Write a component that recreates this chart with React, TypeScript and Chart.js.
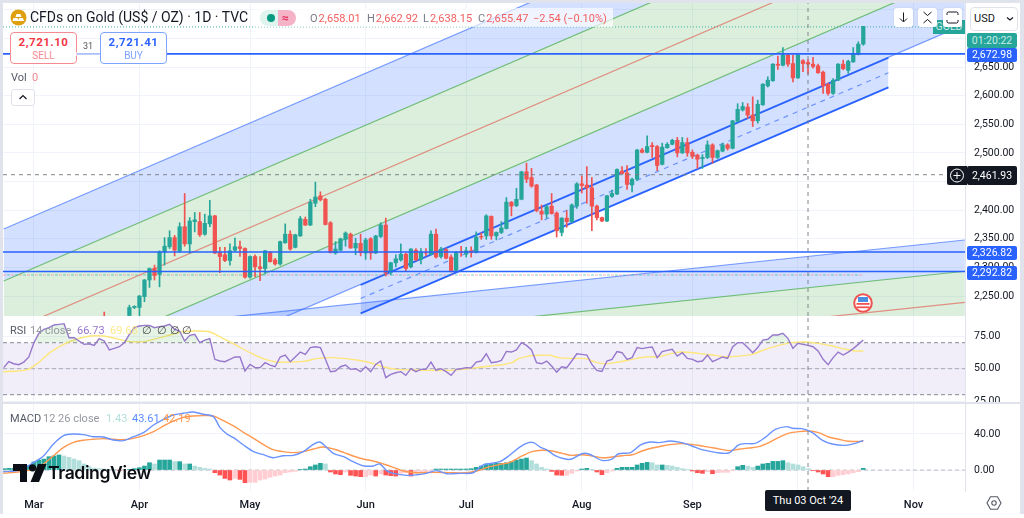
import React, { useEffect, useRef } from "react";
import Chart from "chart.js/auto";

// ---------- candles (last entry is the most recent bar, bar number 0) ----------
const opens = [2214,null,null,null,null,2216,2230,2230,2249,2278,2298,2288,2327,2336,2352,2329,2371,2341,2380,2380,2358,2376,2390,2326,2322,2312,2330,2336,2333,2283,2319,2301,2298,2326,2313,2306,2343,2358,2335,2355,2384,2374,2412,2425,2419,2378,2325,2330,2349,2358,2334,2342,2325,2350,2325,2354,2374,
2291,2308,2313,2323,2301,2330,2314,2326,2323,2358,2319,2331,2318,2295,2327,2323,2329,2326,2354,2355,2389,2355,2361,2368,2414,2408,2419,2467,2457,2444,2398,2393,2407,2395,2361,2386,2380,2407,2446,2444,2439,2407,2387,2381,2424,2428,2468,2465,2444,2454,2505,2501,2513,2511,2480,2509,2515,
2522,2500,2518,2501,2496,2490,2492,2514,2492,2503,2514,2508,2555,2575,2580,2566,2556,2584,2617,2626,2655,2653,2671,2656,2631,2661,2658,2655,2652,2641,2620,2604,2627,2655,2644,2659,2672,2690];
const highs = [2222,null,null,null,null,2234,2233,2251,2279,2299,2304,2329,2352,2364,2356,2378,2429,2387,2396,2396,2393,2417,2391,2335,2335,2341,2351,2346,2334,2320,2322,2319,2330,2328,2316,2346,2376,2364,2358,2389,2388,2419,2449,2432,2421,2380,2345,2351,2362,2360,2351,2358,2351,2352,2356,2378,2386,
2309,2322,2341,2325,2333,2333,2333,2333,2364,2367,2335,2333,2322,2328,2337,2335,2336,2362,2360,2392,2390,2362,2380,2422,2415,2438,2468,2482,2473,2445,2409,2409,2429,2397,2387,2399,2411,2448,2460,2476,2457,2409,2388,2426,2435,2472,2476,2478,2456,2506,2508,2530,2518,2513,2517,2518,2524,
2527,2527,2526,2505,2498,2497,2521,2516,2505,2517,2516,2557,2586,2588,2586,2598,2592,2621,2633,2656,2669,2684,2673,2671,2672,2663,2663,2667,2655,2643,2622,2630,2656,2662,2662,2684,2694,2721];
const lows = [2195,null,null,null,null,2214,2228,2211,2240,2265,2278,2266,2304,2333,2320,2326,2337,2325,2362,2354,2356,2371,2324,2291,2310,2304,2328,2319,2281,2281,2284,2277,2290,2309,2304,2304,2342,2330,2334,2354,2373,2373,2406,2416,2374,2325,2323,2329,2337,2333,2322,2320,2314,2314,2324,2352,2285,
2287,2301,2311,2294,2299,2312,2306,2320,2322,2316,2316,2315,2292,2294,2319,2318,2318,2325,2349,2349,2349,2348,2359,2367,2390,2406,2418,2448,2440,2397,2383,2386,2393,2353,2355,2370,2378,2403,2430,2412,2364,2383,2380,2380,2422,2427,2464,2436,2432,2452,2500,2500,2492,2469,2479,2508,2514,
2493,2499,2494,2490,2473,2473,2490,2482,2490,2502,2505,2507,2554,2573,2560,2546,2552,2583,2615,2625,2646,2652,2651,2624,2630,2642,2638,2648,2639,2604,2601,2602,2626,2645,2639,2658,2671,2688];
const closes = [2205,null,null,null,null,2230,2232,2250,2278,2298,2286,2327,2337,2352,2330,2371,2341,2381,2383,2357,2377,2390,2325,2319,2312,2329,2336,2333,2283,2319,2301,2298,2329,2310,2306,2345,2358,2332,2357,2385,2374,2414,2423,2418,2375,2326,2332,2350,2360,2334,2342,2326,2348,2325,2355,2374,2290,
2308,2315,2323,2298,2332,2313,2327,2325,2358,2318,2332,2316,2294,2326,2326,2329,2326,2353,2353,2390,2355,2361,2369,2414,2407,2419,2467,2454,2442,2399,2393,2406,2394,2364,2386,2380,2409,2446,2443,2439,2407,2387,2381,2425,2429,2471,2464,2445,2454,2505,2501,2511,2511,2478,2510,2515,2522,
2500,2518,2500,2494,2489,2492,2514,2492,2504,2514,2508,2556,2576,2581,2566,2556,2585,2620,2627,2655,2653,2671,2655,2631,2671,2656,2655,2651,2640,2617,2604,2627,2655,2647,2660,2673,2690,2721];

// ---------- RSI, one reading per bar ----------
const rsiValues = [50.8,55.4,53.8,53.1,55.1,59,70,77.2,80.3,81.5,83.6,84.1,84.6,73.8,73.8,71.3,68.7,69.2,67.9,73.1,71.3,64.4,65.6,66.9,70,76.4,81.5,82.8,83.3,83.3,81.5,82.3,82.8,84.1,80.3,79,71.3,75.6,76.4,70,72,73.1,57.2,55.9,55.4,57.2,59,59,48.2,53.3,50.8,50.8,54.6,52.8,51.5,59,60.5,55.4,59,62.8,61,66.2,66.9,66.2,57.2,47.7,48.2,51.5,52.8,49.5,50,47.7,51.5,47.7,53.3,55.9,43.1,45.6,46.9,47.7,44.9,50,47.7,49.5,49.5,55.1,48.7,50,47.7,44.9,49.5,50,50.8,50.5,55.1,55.9,61.5,54.6,55.1,56.4,63.3,62.8,
64.4,70,67.9,64.4,54.6,53.8,55.9,52.1,47.4,51.5,50.8,55.9,61.5,61,60.5,53.3,48.7,47.9,55.9,57.2,63.1,62.3,57.2,58.5,66.2,65.4,66.2,66.7,58.5,63.1,64.1,64.9,59.7,62.3,57.9,57.2,55.4,55.9,60.5,55.4,57.2,59,57.9,66.7,70,70,66.2,62.3,66.2,72,72.6,75.9,75.9,77.2,73.3,65.6,69.5,68.7,67.9,66.9,63.6,57.2,53.1,58.5,62.8,60.5,62.8,65.4,68.7,72];
const rsiMaBars = [-171.1,-168.4,-166.1,-164.1,-161.8,-159.1,-156.5,-153.8,-151.2,-148.5,-145.9,-143.2,-140.6,-137.9,-135.3,-132.6,-130,-127.3,-124.7,-122,-119.4,-116.7,-114.1,-111.4,-108.8,-106.1,-103.4,-100.8,-98.1,-95.5,-92.8,-89.5,-86.2,-82.9,-79.6,-76.9,-74.3,-72.3,-69.9,-68.6,-66.6,-64.6,-62.3,-60.6,-58,-55.3,-53.3,-51.3,-48.7,-46,-43.4,-40.7,-38,-36.1,-32.8,-30.1,-27.4,-24.8,-22.1,-19.5,-16.8,-14.2,-11.5,-8.9,-6.2,-3.6,-1.6,0];
const rsiMaValues = [47.7,48.2,49.5,54.6,62.3,68.7,72.6,75.1,75.1,73.1,70.8,70.8,73.1,75.9,78.5,79,78.2,73.1,67.9,62.3,57.7,55.1,55.1,55.6,57.7,58.5,57.9,56.7,54.6,51.5,49.5,49,48.7,48.7,49.5,50.8,52.1,52.8,54.6,57.7,59.7,60.3,60.3,58.5,57.9,57.7,55.1,53.8,55.1,57.2,59,59.2,61.8,62.8,61.8,60.5,59.2,59.7,61,64.9,67.9,70,70.5,69.5,67.4,64.9,63.6,63.6];

// ---------- MACD ----------
const macdBars = [-171.1,-167.8,-165.1,-163.1,-161.1,-159.1,-157.1,-155.2,-153.2,-151.2,-149.2,-147.2,-145.2,-143.2,-141.2,-139.2,-137.3,-135.3,-133.3,-131.3,-129.3,-128,-126.6,-125.3,-123.3,-121.3,-119.3,-117.4,-115.4,-113.4,-111.4,-109.4,-108.1,-106.8,-105.4,-103.4,-101.5,-99.5,-97.5,-96.2,-94.8,-93.5,-90.8,-88.8,-86.9,-84.9,-82.9,-80.2,-77.6,-75.6,-72.3,-70.3,-68.2,-66.6,-65.6,-64.2,-62.9,-61.3,-59.3,-58,-56,-54.6,-52,-50,-48.7,-46.3,-44.3,-42.4,-40.7,-38.4,-36.1,-34.1,-32.1,-29.4,-26.8,-24.8,-23.5,-21.5,-19.5,-17.5,-15.2,-14.2,-12.2,-10.2,-8.2,-6.2,-3.6,-1.6,0];
const macdValues = [-1.9,0,8.1,15.6,28.9,38.2,40,39.3,37,36.7,33.3,32.6,37,41.5,50,56.3,61.1,63,64.4,61.9,59.3,47.4,40,35.9,27.8,20.4,17,13.7,15.9,16.3,20.4,28.5,31.1,25.2,18.5,14.8,9.3,4.8,4.4,6.7,-0.7,-3.7,-5.9,-5.2,-3.7,-0.7,-4.1,-3.7,-3,5.6,9.3,16.7,25.9,30.4,30.4,25.2,22.2,15.9,12.2,12.2,18.1,17.8,10.7,12.2,18.1,19.3,27.8,31.1,30.4,32.2,30.4,26.7,22.6,19.6,18.9,27.8,29.3,29.6,36.3,45.2,48.2,46.3,45.9,41.9,33.3,28.9,27.4,29.6,33];
const signalBars = [-171.1,-167.8,-165.1,-163.1,-161.1,-159.1,-157.1,-155.2,-153.2,-151.2,-149.2,-147.2,-145.2,-143.2,-141.2,-139.2,-137.3,-135.3,-133.3,-131.3,-129.3,-127.3,-125.3,-123.3,-121.3,-119.3,-117.4,-115.4,-113.4,-111.4,-109.4,-107.4,-105.4,-103.4,-101.5,-99.5,-97.5,-95.5,-93.5,-91.5,-88.8,-85.5,-82.2,-78.9,-76.9,-74.3,-72.3,-70.3,-67.9,-65.9,-63.9,-61.9,-59.9,-58,-56,-54,-52,-50,-48,-46,-44,-42,-40,-38,-36.1,-34.1,-32.1,-29.4,-26.8,-24.8,-22.8,-20.8,-18.8,-16.8,-14.9,-12.9,-10.9,-8.9,-6.9,-4.9,-3,0];
const signalValues = [-3.7,-1.9,0.7,6.7,15.9,25.2,30.7,33,34.1,34.8,34.1,33.7,35.2,38.2,42.6,48.9,54.4,58.5,60,60.4,60,54.8,48.9,41.9,35.2,28.1,22.6,20.4,19.3,20.4,23.3,25.6,23.3,19.6,15.6,12.2,10,6.7,3,-1.1,-3,-2.6,-3,-3,-1.1,3.7,6.3,8.5,15.6,20.4,21.9,21.1,18.5,16.3,17,15.6,13.7,14.4,15.9,17,21.1,24.4,26.7,28.5,29.3,28.5,26.7,24.1,21.5,23,24.4,25.9,30.4,36.3,40.7,42.6,43.3,41.5,36.7,34.1,31.9,31.9];
const histValues = [1.5,1.9,2,2.5,3,5,9,11,12.2,14.8,15.6,16.7,15.6,14.1,12.2,10.4,6.7,3.7,2,1.5,1.1,0.7,0.5,-0.5,-0.5,0.7,1.5,2.6,4.4,8.1,6.7,11.1,11.1,11.1,9.3,9.3,6.7,6.7,4.4,3,1.9,1.1,-3,-5.6,-9.3,-11.1,-9.3,-10.4,-14.1,-13.7,-13.7,-11.1,-10,-8.1,-6.7,-5.6,-3,-2.2,-1.5,0.4,1.1,3.7,5.6,7.4,6.7,-2.2,-4.4,-5.2,-2.2,-5.9,-6.7,-7.4,-7.4,-5.6,-6.7,-4.4,-5.6,-6.3,-6.7,-3.7,-3,-6.7,-3.7,-3,-1.9,-1.1,1.1,1.1,1.1,1.1,1.1,1.1,1.1,1.5,3,4.4,6.7,6.7,7.4,7.4,8.1,9.3,
11.1,12.2,13.3,10.4,6.7,3,1.1,-1.5,-5.6,-5.9,-5.9,-3.7,-1.1,1.1,1.9,0.4,-2.2,-5.2,-3,-1.1,1.9,3,3,3,5.6,7.4,8.5,8.1,5.6,5.6,5.2,4.4,3,1.5,0.4,-1.1,-3,-3.7,-1.9,-4.1,-3,-2.6,-2.6,-0.7,3.7,5.2,4.4,3,4.4,6.7,7.4,9.6,9.6,10.4,8.1,6.7,5.6,3.7,1.5,-0.4,-2.2,-4.4,-7.4,-7.4,-5.9,-5.2,-4.4,-3,-1.9,1.9];

// ---------- ticks ----------
const monthBars = [-165,-144,-122,-99,-79,-56,-34,-13,10];
const monthLabels = ["Mar","Apr","May","Jun","Jul","Aug","Sep","Oct","Nov"];
const priceTicks = [2250,2300,2350,2400,2450,2500,2550,2600,2650,2700,2750];
const hiddenPriceLabels = [2450,2700,2750];
const rsiTicks = [25,50,75];
const macdTicks = [0,40];

// ---------- drawings: [bar, price] end points ----------
const rayBars = [-171,20.2];
const bigBlueTop = [2367,3089.7];
const bigGreenTop = [2276.2,2998.8];
const bigRed = [2184.5,2907.1];
const bigGreenLow = [2092.8,2815.4];
const bigBlueLow = [2002,2724.6];
const lowRayBars = [-151.7,20.2];
const lowBlue = [2190,2347.8];
const lowGreen = [2134.7,2293.3];
const lowRed = [2081,2238.8];
const chanBars = [-100,5];
const chanTop = [2269.2,2666.2];
const chanMid = [2245.6,2640];
const chanLow = [2219.8,2614.5];
const hLevels = [2672.98,2326.82,2292.82];
const crossBar = -11;
const crossPrice = 2461.93;
const lastPrice = 2720;
const prevClose = 2286.7;

// ---------- view ----------
const barMin = -171.14;
const barMax = 20.23;
const GRID = "#f0f3fa";
const AXIS = "#e0e3eb";
const UP = "#26a69a";
const DOWN = "#f05350";
const BLUE = "#2962ff";
const THINBLUE = "rgba(41,98,255,0.6)";
const FILLBLUE = "rgba(41,98,255,0.2)";
const FILLGREEN = "rgba(76,175,80,0.2)";
const THINGREEN = "rgba(76,175,80,0.75)";
const THINRED = "rgba(226,90,80,0.65)";
const CROSS = "rgba(120,123,134,0.75)";
const FONT = "Roboto, sans-serif";

function line(bars: number[], vals: number[], color: string, extra: any = {}) {
  return { type: "line", data: bars.map((x, i) => ({ x, y: vals[i] })), borderColor: color, borderWidth: 1.2, pointRadius: 0, tension: 0, fill: false, ...extra };
}

function xScale(axisH: number, withLabels: boolean) {
  return {
    type: "linear", min: barMin, max: barMax, offset: false,
    grid: { color: GRID, offset: false, drawTicks: false },
    border: { display: false },
    afterBuildTicks: (s: any) => { s.ticks = monthBars.map((value) => ({ value })); },
    afterFit: (s: any) => { s.height = axisH; s.paddingLeft = 0; s.paddingRight = 0; },
    ticks: {
      display: withLabels, autoSkip: false, maxRotation: 0, padding: 8, color: "#131722",
      font: { family: FONT, size: 11, weight: "500" },
      callback: (v: number) => monthLabels[monthBars.indexOf(v)] ?? "",
    },
  };
}

function yScale(min: number, max: number, list: number[], hidden: number[] = []) {
  return {
    type: "linear", position: "right", min, max, beginAtZero: false,
    grid: { color: GRID, drawTicks: false },
    border: { display: true, color: AXIS },
    afterBuildTicks: (s: any) => { s.ticks = list.map((value) => ({ value })); },
    afterFit: (s: any) => { s.width = 55; s.paddingTop = 0; s.paddingBottom = 0; },
    ticks: {
      padding: 9, color: "#131722", autoSkip: false,
      font: { family: FONT, size: 10.5 },
      callback: (v: number) => hidden.includes(v) ? "" : v.toLocaleString("en-US", { minimumFractionDigits: 2, maximumFractionDigits: 2 }),
    },
  };
}

function baseOptions(scales: any) {
  return {
    responsive: false, animation: false, maintainAspectRatio: false,
    layout: { padding: 0 },
    events: [],
    plugins: { legend: { display: false }, tooltip: { enabled: false } },
    scales,
  };
}

function priceDatasets(yMin: number, yMax: number) {
  const n = opens.length;
  const wicks: any[] = [], bodies: any[] = [], wickColors: string[] = [], bodyColors: string[] = [];
  for (let i = 0; i < n; i++) {
    if (opens[i] === null) continue;
    const bar = i - (n - 1);
    const color = (closes[i] as number) >= (opens[i] as number) ? UP : DOWN;
    wicks.push({ x: bar, y: [lows[i], highs[i]] });
    bodies.push({ x: bar, y: [opens[i], closes[i]] });
    wickColors.push(color);
    bodyColors.push(color);
  }
  const ds: any[] = [];
  const add = (d: any, order: number) => { ds.push({ ...d, order }); return ds.length - 1; };
  // lower ray set
  const iLowGreen = ds.length + 1;
  add(line(lowRayBars, lowBlue, THINBLUE, { fill: iLowGreen, backgroundColor: FILLBLUE }), 40);
  add(line(lowRayBars, lowGreen, THINGREEN, { fill: { target: { value: 1800 } }, backgroundColor: FILLGREEN }), 39);
  add(line(lowRayBars, lowRed, THINRED), 38);
  // big rising channel
  const b = ds.length;
  add(line(rayBars, bigBlueTop, THINBLUE, { fill: b + 1, backgroundColor: FILLBLUE }), 37);
  add(line(rayBars, bigGreenTop, THINGREEN, { fill: b + 3, backgroundColor: FILLGREEN }), 36);
  add(line(rayBars, bigRed, THINRED), 35);
  add(line(rayBars, bigGreenLow, THINGREEN, { fill: b + 4, backgroundColor: FILLBLUE }), 34);
  add(line(rayBars, bigBlueLow, THINBLUE), 33);
  // thick channel
  const c = ds.length;
  add(line(chanBars, chanTop, BLUE, { borderWidth: 1.8, fill: c + 2, backgroundColor: FILLBLUE }), 32);
  add(line(chanBars, chanMid, THINBLUE, { borderDash: [5, 5] }), 31);
  add(line(chanBars, chanLow, BLUE, { borderWidth: 1.8 }), 30);
  // pale dashed price lines
  add(line([barMin, 0], [prevClose, prevClose], "rgba(242,120,120,0.55)", { borderDash: [3, 5] }), 29);
  add(line([barMin, 0], [prevClose, prevClose], "rgba(38,166,154,0.55)", { borderDash: [3, 5], borderDashOffset: 4 }), 28);
  add(line([barMin, barMax], [lastPrice, lastPrice], "rgba(38,166,154,0.7)", { borderDash: [1, 2] }), 27);
  // candles
  add({ type: "bar", data: wicks, backgroundColor: wickColors, barThickness: 1, grouped: false }, 6);
  add({ type: "bar", data: bodies, backgroundColor: bodyColors, barThickness: 3.6, grouped: false }, 5);
  // horizontal levels + crosshair
  hLevels.forEach((lv) => add(line([barMin, barMax], [lv, lv], BLUE, { borderWidth: 1.6 }), 2));
  add(line([crossBar, crossBar], [yMin, yMax], CROSS, { borderDash: [4, 4] }), 1);
  add(line([barMin, 16.6], [crossPrice, crossPrice], CROSS, { borderDash: [4, 4] }), 1);
  return ds;
}

function rsiDatasets(yMin: number, yMax: number) {
  const n = rsiValues.length;
  const rsiBars = rsiValues.map((_, i) => i - (n - 1));
  const ds: any[] = [];
  const dash = "rgba(120,123,134,0.7)";
  ds.push({ ...line([barMin, barMax], [70, 70], dash, { borderDash: [4, 3], fill: 1, backgroundColor: "rgba(126,87,194,0.1)" }), order: 9 });
  ds.push({ ...line([barMin, barMax], [30, 30], dash, { borderDash: [4, 3] }), order: 8 });
  ds.push({ ...line([barMin, barMax], [50, 50], "rgba(120,123,134,0.45)", { borderDash: [4, 3] }), order: 7 });
  ds.push({ ...line(rsiMaBars, rsiMaValues, "#fde67a", { borderWidth: 1.4, tension: 0.3 }), order: 4 });
  ds.push({ ...line(rsiBars, rsiValues, "#9678cc", { borderWidth: 1.4, fill: { target: { value: 70 }, above: "rgba(76,175,80,0.14)", below: "rgba(0,0,0,0)" } }), order: 3 });
  ds.push({ ...line([crossBar, crossBar], [yMin, yMax], CROSS, { borderDash: [4, 4] }), order: 1 });
  return ds;
}

function macdDatasets(yMin: number, yMax: number) {
  const n = histValues.length;
  const bars: any[] = [], colors: string[] = [];
  histValues.forEach((v, i) => {
    const prev = i > 0 ? histValues[i - 1] : 0;
    bars.push({ x: i - (n - 1), y: v });
    if (v >= 0) colors.push(v >= prev ? UP : "#b2dfdb");
    else colors.push(v < prev ? "#ff5252" : "#ffcdd2");
  });
  const ds: any[] = [];
  ds.push({ ...line([barMin, barMax], [0, 0], "rgba(120,123,134,0.45)", { borderDash: [4, 3] }), order: 9 });
  ds.push({ type: "bar", data: bars, backgroundColor: colors, barThickness: 4, grouped: false, order: 6 });
  ds.push({ ...line(signalBars, signalValues, "#ff9850", { borderWidth: 1.4, tension: 0.3 }), order: 4 });
  ds.push({ ...line(macdBars, macdValues, "#6a93ff", { borderWidth: 1.4, tension: 0.3 }), order: 3 });
  ds.push({ ...line([crossBar, crossBar], [yMin, yMax], CROSS, { borderDash: [4, 4] }), order: 1 });
  return ds;
}

const Txt = ({ l, t, c = "#131722", s = 11, w = 400, children, extra }: any) => (
  <div style={{ position: "absolute", left: l, top: t, color: c, fontSize: s, fontWeight: w, fontFamily: FONT, lineHeight: 1, whiteSpace: "nowrap", ...extra }}>{children}</div>
);

const Tag = ({ t, h, bg, children }: any) => (
  <div style={{ position: "absolute", left: 967, width: 50, top: t, height: h, background: bg, color: "#fff", fontFamily: FONT, fontSize: 10.5, lineHeight: h + "px", textAlign: "center", borderRadius: 2 }}>{children}</div>
);

const IconBtn = ({ l, children }: any) => (
  <div style={{ position: "absolute", left: l, top: 8, width: 19, height: 19, background: "#fff", borderRadius: 3, boxShadow: "0 0 2px rgba(0,0,0,.12)" }}>
    <svg width="19" height="19" viewBox="0 0 19 19" fill="none" stroke="#131722" strokeWidth="1">{children}</svg>
  </div>
);

export default function App() {
  const a = useRef<HTMLCanvasElement>(null);
  const b = useRef<HTMLCanvasElement>(null);
  const c = useRef<HTMLCanvasElement>(null);

  useEffect(() => {
    document.body.style.margin = "0";
    const pMin = 2215.1, pMax = 2761.8;
    const rMin = 24.4, rMax = 90.5;
    const mMin = -23.3, mMax = 73.3;
    const charts = [
      new Chart(a.current!, { type: "line", data: { datasets: priceDatasets(pMin, pMax) as any }, options: baseOptions({ x: xScale(0, false), y: yScale(pMin, pMax, priceTicks, hiddenPriceLabels) }) as any }),
      new Chart(b.current!, { type: "line", data: { datasets: rsiDatasets(rMin, rMax) as any }, options: baseOptions({ x: xScale(0, false), y: yScale(rMin, rMax, rsiTicks) }) as any }),
      new Chart(c.current!, { type: "line", data: { datasets: macdDatasets(mMin, mMax) as any }, options: baseOptions({ x: xScale(23, true), y: yScale(mMin, mMax, macdTicks) }) as any }),
    ];
    return () => charts.forEach((ch) => ch.destroy());
  }, []);

  const canvas = (top: number, height: number): any => ({ position: "absolute", left: 3, top, width: 1017, height, background: "#fff" });

  return (
    <div style={{ position: "relative", width: 1024, height: 518, background: "#e0e3eb", overflow: "hidden", filter: "blur(0.35px)" }}>
      <div style={{ position: "absolute", left: 0, top: 514, width: 1024, height: 4, background: "#fff" }} />
      <canvas ref={a} width={1017} height={313} style={canvas(3, 313)} />
      <canvas ref={b} width={1017} height={86} style={canvas(316, 86)} />
      <canvas ref={c} width={1017} height={110} style={canvas(404, 110)} />

      {/* legend */}
      <div style={{ position: "absolute", left: 255, top: 8, width: 358, height: 19, background: "rgba(255,255,255,0.65)" }} />
      <svg style={{ position: "absolute", left: 10, top: 9 }} width="17" height="17" viewBox="0 0 17 17">
        <circle cx="8.5" cy="8.5" r="8" fill="#dfa010" />
        <path d="M6.5 5h4l1 3h-6zM3.5 9h4l1 3h-6zM9 9h4l1 3h-6z" fill="#fff" />
      </svg>
      <Txt l={30} t={10} s={14}>CFDs on Gold (US$ / OZ) · 1D · TVC</Txt>
      <div style={{ position: "absolute", left: 260, top: 10, width: 18, height: 16, background: "#dff3ef", borderRadius: "8px 0 0 8px" }} />
      <div style={{ position: "absolute", left: 278, top: 10, width: 18, height: 16, background: "#f5b3c8", borderRadius: "0 8px 8px 0" }} />
      <div style={{ position: "absolute", left: 267, top: 14, width: 8, height: 8, background: "#089981", borderRadius: 4 }} />
      <Txt l={282} t={12} s={12} c="#e0315a" w={700}>≈</Txt>
      {[
        [310, "O", "2,658.01"], [367, "H", "2,662.92"], [423, "L", "2,638.15"], [478, "C", "2,655.47"],
      ].map(([l, k, v]: any) => (
        <Txt key={k} l={l} t={13} s={11} c="#f2605f"><span style={{ color: "#787b86", marginRight: 1 }}>{k}</span>{v}</Txt>
      ))}
      <Txt l={533} t={13} s={11} c="#f2605f">−2.54 (−0.10%)</Txt>

      {/* buy / sell */}
      <div style={{ position: "absolute", left: 10, top: 32, width: 65, height: 30, background: "#fff", border: "1px solid #f58a92", borderRadius: 4, textAlign: "center", fontFamily: FONT }}>
        <div style={{ color: "#f23645", fontSize: 11.5, fontWeight: 700, lineHeight: "15px", marginTop: 2, letterSpacing: 0.5 }}>2,721.10</div>
        <div style={{ color: "#f58a92", fontSize: 10, lineHeight: "11px" }}>SELL</div>
      </div>
      <div style={{ position: "absolute", left: 76, top: 52, width: 24, height: 4, background: "rgba(255,255,255,0.6)" }} />
      <Txt l={83} t={42} s={9} c="#555">31</Txt>
      <div style={{ position: "absolute", left: 100, top: 32, width: 65, height: 30, background: "#fff", border: "1px solid #7da2ff", borderRadius: 4, textAlign: "center", fontFamily: FONT }}>
        <div style={{ color: "#2962ff", fontSize: 11.5, fontWeight: 700, lineHeight: "15px", marginTop: 2, letterSpacing: 0.5 }}>2,721.41</div>
        <div style={{ color: "#7da2ff", fontSize: 10, lineHeight: "11px" }}>BUY</div>
      </div>
      <Txt l={11} t={72} s={11} c="#555a66">Vol</Txt>
      <Txt l={32} t={72} s={11} c="#f58a92">0</Txt>
      <div style={{ position: "absolute", left: 11, top: 89, width: 24, height: 17, background: "#fff", border: "1px solid #e0e3eb", borderRadius: 3, boxSizing: "border-box" }}>
        <svg width="22" height="15" viewBox="0 0 22 15" fill="none" stroke="#131722" strokeWidth="1.2"><path d="M7.5 9l3.5-3.5L14.5 9" /></svg>
      </div>

      {/* top-right tools */}
      <div style={{ position: "absolute", left: 933, top: 20, width: 32, height: 14, background: UP, color: "#c8ece6", fontFamily: FONT, fontSize: 10.5, lineHeight: "14px", textAlign: "center" }}>GOLD</div>
      <IconBtn l={894}><path d="M9.5 4.5v9M6 10.5l3.5 3.5 3.5-3.5" /></IconBtn>
      <IconBtn l={918}><path d="M5.5 4l4 3.5 4-3.5M5.5 15l4-3.5 4 3.5M5 9.5h0" /></IconBtn>
      <IconBtn l={943}><path d="M4 7V5.5A1.5 1.5 0 0 1 5.5 4h8A1.5 1.5 0 0 1 15 5.5V7M4 12v1.5A1.5 1.5 0 0 0 5.5 15h8a1.5 1.5 0 0 0 1.5-1.5V12" /></IconBtn>
      <div style={{ position: "absolute", left: 970, top: 7, width: 48, height: 24, background: "#fff", border: "1px solid #e0e3eb", borderRadius: 4, boxSizing: "border-box", fontFamily: FONT, fontSize: 11, lineHeight: "22px", paddingLeft: 3, color: "#131722" }}>USD</div>
      <svg style={{ position: "absolute", left: 1006, top: 16 }} width="8" height="6" viewBox="0 0 8 6" fill="none" stroke="#131722" strokeWidth="1.2"><path d="M1 1.5l3 2.5 3-2.5" /></svg>

      {/* axis tags */}
      <Tag t={33} h={15} bg={UP}><span style={{ color: "#c8ece6" }}>01:20:22</span></Tag>
      <Tag t={48} h={14} bg={BLUE}>2,672.98</Tag>
      <Tag t={166} h={19} bg="#131722">2,461.93</Tag>
      <Tag t={246} h={14} bg={BLUE}>2,326.82</Tag>
      <Tag t={266} h={14} bg={BLUE}>2,292.82</Tag>
      <div style={{ position: "absolute", left: 947, top: 166, width: 20, height: 19, background: "#131722", borderRadius: "2px 0 0 2px" }}>
        <svg width="20" height="19" viewBox="0 0 20 19" fill="none" stroke="#fff" strokeWidth="1"><circle cx="10" cy="9.5" r="6.5" /><path d="M10 6v7M6.5 9.5h7" /></svg>
      </div>

      {/* flag event */}
      <svg style={{ position: "absolute", left: 853, top: 293 }} width="20" height="20" viewBox="0 0 20 20">
        <circle cx="10" cy="10" r="8.8" fill="#fff" stroke="#ef5350" strokeWidth="2" />
        <rect x="3.5" y="10" width="13" height="1.8" fill="#ef5350" />
        <rect x="3.5" y="13.4" width="13" height="1.8" fill="#ef5350" />
        <rect x="5" y="4" width="10" height="5" fill="#4a90e2" />
      </svg>

      {/* indicator legends */}
      <Txt l={10} t={325} s={11} c="#555a66">RSI</Txt>
      <Txt l={30} t={325} s={11} c="#9598a1">14 close</Txt>
      <Txt l={77} t={325} s={11} c="#9575cd">66.73</Txt>
      <Txt l={110} t={325} s={11} c="#fbe98c">69.68</Txt>
      {[142, 157, 170, 182].map((l) => <Txt key={l} l={l} t={325} s={11} c="#444">∅</Txt>)}
      <Txt l={10} t={413} s={11} c="#555a66">MACD</Txt>
      <Txt l={43} t={413} s={11} c="#9598a1">12 26 close</Txt>
      <Txt l={106} t={413} s={11} c="#b2dfdb">1.43</Txt>
      <Txt l={132} t={413} s={11} c="#5b8cff">43.61</Txt>
      <Txt l={163} t={413} s={11} c="#ff9850">42.19</Txt>

      {/* brand mark */}
      <svg style={{ position: "absolute", left: 13, top: 464 }} width="34" height="18" viewBox="0 0 34 18" fill="#0b0e14">
        <path d="M0 0h14v18H7V7H0z" />
        <circle cx="19.5" cy="3.8" r="3.6" />
        <path d="M25 0h8.5L26 18h-8.5z" />
      </svg>
      <Txt l={48} t={464} s={17.6} c="#0b0e14" w={600} extra={{ fontFamily: "Inter, sans-serif", letterSpacing: -0.4 }}>TradingView</Txt>

      {/* crosshair date + gear */}
      <div style={{ position: "absolute", left: 765, top: 490, width: 86, height: 21, background: "#131722", color: "#fff", borderRadius: 2, fontFamily: FONT, fontSize: 11, lineHeight: "21px", textAlign: "center" }}>Thu 03 Oct '24</div>
      <svg style={{ position: "absolute", left: 986, top: 495 }} width="16" height="16" viewBox="0 0 16 16" fill="none" stroke="#555a66" strokeWidth="1.1">
        <path d="M4.5 1.8h7L15 8l-3.5 6.2h-7L1 8z" /><circle cx="8" cy="8" r="2.2" />
      </svg>
    </div>
  );
}
